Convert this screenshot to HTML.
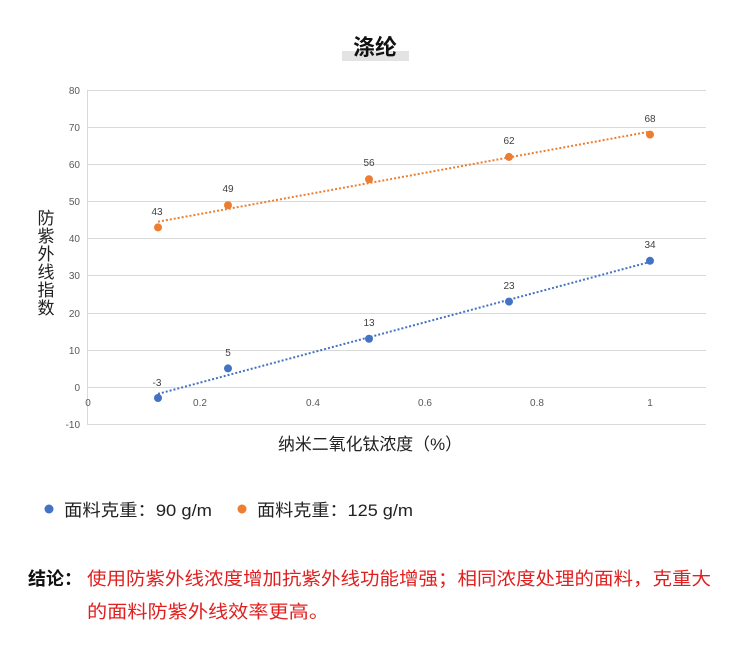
<!DOCTYPE html>
<html><head><meta charset="utf-8"><style>
body{margin:0;background:#fff;width:750px;height:650px;overflow:hidden;font-family:"Liberation Sans","Noto Sans CJK SC",sans-serif}
</style></head><body>
<svg width="750" height="650" xmlns="http://www.w3.org/2000/svg" style="position:absolute;left:0;top:0">
<rect x="342" y="51" width="67" height="10" fill="#e3e3e3"/>
<text x="375" y="55" text-anchor="middle" font-size="22" font-weight="bold" font-family="Liberation Sans,Noto Sans CJK SC,sans-serif" fill="#111">涤纶</text>
<g stroke="#d9d9d9" stroke-width="1">
<line x1="87" y1="90.5" x2="706" y2="90.5"/>
<line x1="87" y1="127.5" x2="706" y2="127.5"/>
<line x1="87" y1="164.5" x2="706" y2="164.5"/>
<line x1="87" y1="201.5" x2="706" y2="201.5"/>
<line x1="87" y1="238.5" x2="706" y2="238.5"/>
<line x1="87" y1="275.5" x2="706" y2="275.5"/>
<line x1="87" y1="313.5" x2="706" y2="313.5"/>
<line x1="87" y1="350.5" x2="706" y2="350.5"/>
<line x1="87" y1="387.5" x2="706" y2="387.5"/>
<line x1="87" y1="424.5" x2="706" y2="424.5"/>
<line x1="87.5" y1="90" x2="87.5" y2="424"/>
</g>
<g font-size="10" fill="#595959" text-anchor="end" font-family="Liberation Sans,sans-serif">
<text x="80" y="94">80</text><text x="80" y="131">70</text><text x="80" y="168">60</text>
<text x="80" y="205">50</text><text x="80" y="242">40</text><text x="80" y="279">30</text>
<text x="80" y="317">20</text><text x="80" y="354">10</text><text x="80" y="391">0</text>
<text x="80" y="428">-10</text>
</g>
<g font-size="10" fill="#595959" text-anchor="middle" font-family="Liberation Sans,sans-serif">
<text x="88" y="406">0</text><text x="200" y="406">0.2</text><text x="313" y="406">0.4</text>
<text x="425" y="406">0.6</text><text x="537" y="406">0.8</text><text x="650" y="406">1</text>
</g>
<line x1="158" y1="393.9" x2="650" y2="261.9" stroke="#4472c4" stroke-width="2" stroke-dasharray="2,2"/>
<line x1="158" y1="221.7" x2="650" y2="131.6" stroke="#ed7d31" stroke-width="2" stroke-dasharray="2,2"/>
<g fill="#4472c4">
<circle cx="158" cy="398" r="4"/><circle cx="228" cy="368.4" r="4"/><circle cx="369" cy="338.8" r="4"/>
<circle cx="509" cy="301.6" r="4"/><circle cx="650" cy="260.8" r="4"/>
</g>
<g fill="#ed7d31">
<circle cx="158" cy="227.4" r="4"/><circle cx="228" cy="205.2" r="4"/><circle cx="369" cy="179.2" r="4"/>
<circle cx="509" cy="156.9" r="4"/><circle cx="650" cy="134.6" r="4"/>
</g>
<g font-size="10" fill="#404040" text-anchor="middle" font-family="Liberation Sans,sans-serif">
<text x="157" y="386">-3</text><text x="228" y="356">5</text><text x="369" y="326">13</text>
<text x="509" y="289">23</text><text x="650" y="248">34</text>
<text x="157" y="215">43</text><text x="228" y="192">49</text><text x="369" y="166">56</text>
<text x="509" y="144">62</text><text x="650" y="122">68</text>
</g>
<g font-size="17" fill="#222" text-anchor="middle">
<text x="46" y="224">防</text><text x="46" y="242">紫</text><text x="46" y="260">外</text>
<text x="46" y="278">线</text><text x="46" y="296">指</text><text x="46" y="314">数</text>
</g>
<text x="278" y="450" font-size="17" fill="#222" textLength="184" lengthAdjust="spacingAndGlyphs">纳米二氧化钛浓度（%）</text>
<circle cx="49" cy="509" r="4.5" fill="#4472c4"/>
<text x="64" y="516" font-size="17" fill="#222" textLength="148" lengthAdjust="spacingAndGlyphs">面料克重：90 g/m</text>
<circle cx="242" cy="509" r="4.5" fill="#ed7d31"/>
<text x="257" y="516" font-size="17" fill="#222" textLength="156" lengthAdjust="spacingAndGlyphs">面料克重：125 g/m</text>
<text x="28" y="585" font-size="18" font-weight="bold" fill="#111">结论：</text>
<text x="87" y="585" font-size="18" fill="#e02020" textLength="624" lengthAdjust="spacingAndGlyphs">使用防紫外线浓度增加抗紫外线功能增强；相同浓度处理的面料，克重大</text>
<text x="87" y="618" font-size="18" fill="#e02020" textLength="242" lengthAdjust="spacingAndGlyphs">的面料防紫外线效率更高。</text>
</svg>
</body></html>
